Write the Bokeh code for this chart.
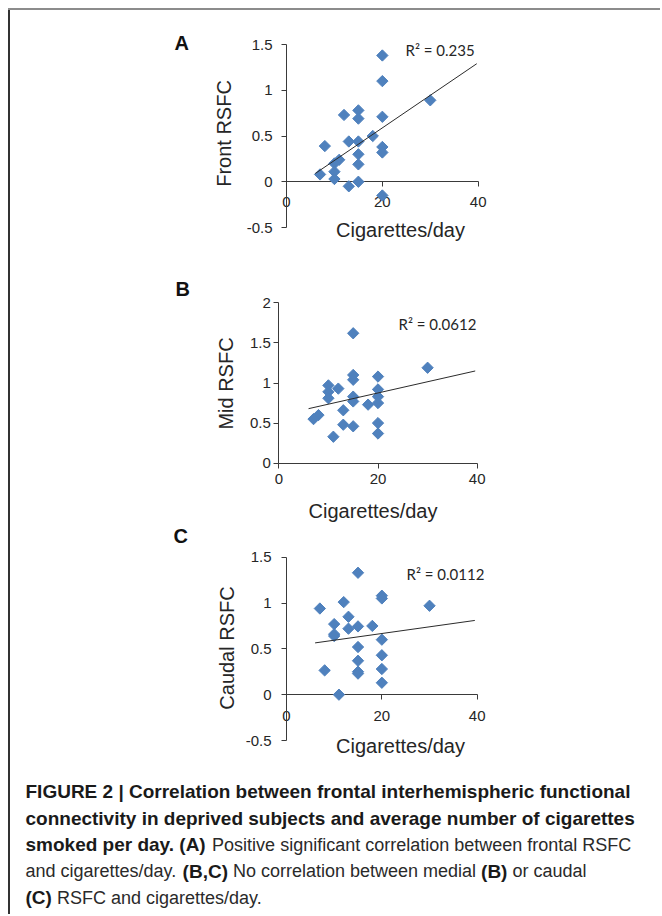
import numpy as np
from bokeh.plotting import figure
from bokeh.models import Range1d, FixedTicker, Label, CustomJSTickFormatter, Div, Spacer
from bokeh.layouts import column, row
from bokeh.core.properties import value
from bokeh.embed import file_html
from bokeh.resources import INLINE

# ---------------- data ----------------
a_x = [20, 20, 30, 15, 15, 12, 20, 8, 13, 15, 18, 20, 20, 15, 15, 11, 10, 10, 10, 7, 13, 15, 20]
a_y = [1.38, 1.10, 0.89, 0.78, 0.69, 0.73, 0.71, 0.39, 0.44, 0.44, 0.50, 0.38, 0.32, 0.30, 0.19,
       0.24, 0.20, 0.11, 0.03, 0.08, -0.05, 0.0, -0.15]
a_trend_x = [6, 39.7]
a_trend_y = [0.09, 1.29]

b_x = [15, 30, 15, 15, 20, 10, 12, 10, 10, 20, 20, 20, 15, 15, 18, 13, 8, 7, 13, 15, 20, 20, 11]
b_y = [1.62, 1.19, 1.10, 1.04, 1.08, 0.97, 0.93, 0.89, 0.81, 0.92, 0.83, 0.75, 0.83, 0.77, 0.73,
       0.66, 0.60, 0.55, 0.48, 0.46, 0.50, 0.37, 0.33]
b_trend_x = [6, 39.6]
b_trend_y = [0.68, 1.15]

c_x = [15, 20, 20, 30, 7, 12, 13, 10, 13, 15, 18, 10, 10, 20, 15, 20, 15, 20, 15, 15, 8, 20, 11]
c_y = [1.33, 1.08, 1.05, 0.97, 0.94, 1.01, 0.85, 0.77, 0.72, 0.745, 0.75, 0.66, 0.64, 0.60, 0.52,
       0.43, 0.37, 0.28, 0.25, 0.23, 0.265, 0.13, 0.0]
c_trend_x = [6, 39.5]
c_trend_y = [0.565, 0.81]

x_ticks = [0, 20, 40]
a_y_ticks = [-0.5, 0, 0.5, 1, 1.5]
b_y_ticks = [0, 0.5, 1, 1.5, 2]
c_y_ticks = [-0.5, 0, 0.5, 1, 1.5]

panel_letters = ["A", "B", "C"]
y_titles = ["Front RSFC", "Mid RSFC", "Caudal RSFC"]
x_title = "Cigarettes/day"
r2_texts = ["R\u00b2 = 0.235", "R\u00b2 = 0.0612", "R\u00b2 = 0.0112"]

caption_lines = [
    [("FIGURE 2 | Correlation between frontal interhemispheric functional", True)],
    [("connectivity in deprived subjects and average number of cigarettes", True)],
    [("smoked per day. (A)", True), (" Positive significant correlation between frontal RSFC", False)],
    [("and cigarettes/day. ", False), ("(B,C)", True), (" No correlation between medial ", False),
     ("(B)", True), (" or caudal", False)],
    [("(C)", True), (" RSFC and cigarettes/day.", False)],
]

# ---------------- styling / layout geometry ----------------
FONT = "Liberation Sans"
BLUE = "#4F81BD"
AXIS = "#3a3a3a"
TXT = "#262626"
W = 650          # width of every figure
ORG_X = 10       # page x of figures' left edge (8 margin + 2 frame line)


def make_panel(xs, ys, tx, ty, yr, yticks, letter, ytitle, r2, g):
    H = g["H"]
    oy = g["oy"]
    px0, px40 = g["x0"] - ORG_X, g["x40"] - ORG_X
    pyt, pyb = g["yt"] - oy, g["yb"] - oy
    ylo, yhi = yr
    sx = (px40 - px0) / 40.0
    sy = (pyb - pyt) / (yhi - ylo)
    x_start = -px0 / sx
    x_end = (W - px0) / sx
    y_end = yhi + pyt / sy
    y_start = ylo - (H - pyb) / sy

    def to_data(page_x, page_y):
        return x_start + (page_x - ORG_X) / sx, y_end - (page_y - oy) / sy

    p = figure(width=W, height=H, min_border=0,
               x_range=Range1d(x_start, x_end), y_range=Range1d(y_start, y_end),
               output_backend="svg", toolbar_location=None, tools="")
    p.grid.visible = False
    p.outline_line_color = None
    p.background_fill_color = "white"
    p.border_fill_color = "white"

    p.xaxis.fixed_location = 0
    p.yaxis.fixed_location = 0
    p.xaxis.bounds = (0, 40)
    p.yaxis.bounds = (ylo, yhi)
    p.xaxis.ticker = FixedTicker(ticks=x_ticks)
    p.yaxis.ticker = FixedTicker(ticks=yticks)
    p.yaxis.formatter = CustomJSTickFormatter(code="return String(tick)")
    for ax in (p.xaxis, p.yaxis):
        ax.axis_line_color = AXIS
        ax.axis_line_width = 1
        ax.major_tick_line_color = AXIS
        ax.major_tick_in = 0
        ax.major_tick_out = 5
        ax.minor_tick_in = 0
        ax.minor_tick_out = 0
        ax.major_label_text_font = FONT
        ax.major_label_text_font_size = "15px"
        ax.major_label_text_color = TXT
    p.xaxis.major_label_standoff = g["xstand"]
    p.yaxis.major_label_standoff = g["ystand"]
    p.xaxis.level = "underlay"

    p.scatter(xs, ys, marker="square", size=8, angle=np.pi / 4,
              fill_color=BLUE, line_color=BLUE)
    p.line(tx, ty, line_color="#2b2b2b", line_width=1)

    lx, ly = to_data(*g["letter"])
    p.add_layout(Label(x=lx, y=ly, text=letter,
                       text_font=FONT, text_font_size="20px", text_font_style="bold",
                       text_color="#111111", text_align="left", text_baseline="middle"))
    xx, xy = to_data(*g["xtitle"])
    p.add_layout(Label(x=xx, y=xy, text=x_title,
                       text_font=FONT, text_font_size="20px", text_color=TXT,
                       text_align="center", text_baseline="middle"))
    yx, yy = to_data(*g["ytitle"])
    p.add_layout(Label(x=yx, y=yy, text=ytitle, angle=np.pi / 2,
                       text_font=FONT, text_font_size="20px", text_color=TXT,
                       text_align="center", text_baseline="middle"))
    rx, ry = to_data(*g["r2"])
    p.add_layout(Label(x=rx, y=ry, text=r2,
                       text_font="Lato", text_font_size="15px", text_color=TXT,
                       text_align="left", text_baseline="middle"))
    return p


# page-pixel geometry of each panel (axis box, text anchors)
geomA = dict(oy=10, H=260, x0=286, x40=477.7, yt=44, yb=227, xstand=10, ystand=9,
             letter=(174, 42), xtitle=(400, 229), ytitle=(223, 133), r2=(405, 49))
geomB = dict(oy=270, H=255, x0=278.3, x40=476.7, yt=302.3, yb=462.7, xstand=6, ystand=3,
             letter=(175, 288), xtitle=(372.5, 510), ytitle=(225, 383), r2=(398, 323))
geomC = dict(oy=525, H=240, x0=286, x40=476.7, yt=556.7, yb=740, xstand=11, ystand=10,
             letter=(173, 535), xtitle=(400, 745), ytitle=(226.7, 647.5), r2=(406, 573))

pA = make_panel(a_x, a_y, a_trend_x, a_trend_y, (-0.5, 1.5), a_y_ticks,
                panel_letters[0], y_titles[0], r2_texts[0], geomA)
pB = make_panel(b_x, b_y, b_trend_x, b_trend_y, (0, 2), b_y_ticks,
                panel_letters[1], y_titles[1], r2_texts[1], geomB)
pC = make_panel(c_x, c_y, c_trend_x, c_trend_y, (-0.5, 1.5), c_y_ticks,
                panel_letters[2], y_titles[2], r2_texts[2], geomC)

# ---------------- caption ----------------
UP = "ABCDEFGHIJKLMNOPQRSTUVWXYZ"
LO = "abcdefghijklmnopqrstuvwxyz"
reg_w = dict(zip(UP, [667, 667, 722, 722, 667, 611, 778, 722, 278, 500, 667, 556, 833, 722, 778,
                      667, 778, 722, 667, 611, 722, 667, 944, 667, 667, 611]))
reg_w.update(zip(LO, [556, 556, 500, 556, 556, 278, 556, 556, 222, 222, 500, 222, 833, 556, 556,
                      556, 556, 333, 500, 278, 556, 500, 722, 500, 500, 500]))
bold_w = dict(zip(UP, [722, 722, 722, 722, 667, 611, 778, 722, 278, 556, 722, 611, 833, 722, 778,
                       667, 778, 722, 667, 611, 722, 667, 944, 667, 667, 611]))
bold_w.update(zip(LO, [556, 611, 556, 611, 556, 333, 611, 611, 278, 278, 556, 278, 889, 611, 611,
                       611, 611, 389, 556, 333, 611, 556, 778, 556, 556, 500]))
for d, bar in ((reg_w, 260), (bold_w, 280)):
    d.update({" ": 278, "(": 333, ")": 333, ",": 278, ".": 278, "/": 278, "-": 333, "|": bar})
    d.update({c: 556 for c in "0123456789"})

BOLD_SIZE = 19
REG_SIZE = 18
CAP_OY = 765
CAP_H = 149


def text_width(s, bold):
    d = bold_w if bold else reg_w
    size = BOLD_SIZE if bold else REG_SIZE
    return sum(d.get(ch, 556) for ch in s) * size / 1000.0


cap = figure(width=W, height=CAP_H, x_range=Range1d(0, W), y_range=Range1d(CAP_H, 0),
             min_border=0, output_backend="svg", toolbar_location=None, tools="",
             x_axis_type=None, y_axis_type=None)
cap.grid.visible = False
cap.outline_line_color = None

bx, by, bt_ = [], [], []
rx, ry, rt_ = [], [], []
line_y0, line_gap, x0 = 791 - CAP_OY, 26.5, 25 - ORG_X
for i, segs in enumerate(caption_lines):
    x = x0
    y = line_y0 + i * line_gap
    for s, bold in segs:
        lead = len(s) - len(s.lstrip(" "))
        xs = x + text_width(s[:lead], bold)
        if bold:
            bx.append(xs); by.append(y); bt_.append(s.strip(" "))
        else:
            rx.append(xs); ry.append(y); rt_.append(s.strip(" "))
        x += text_width(s, bold)

cap.text(x=bx, y=by, text=bt_, text_font=value(FONT), text_font_size=value(f"{BOLD_SIZE}px"),
         text_font_style="bold", text_color="#1a1a1a", text_baseline="middle", text_align="left")
cap.text(x=rx, y=ry, text=rt_, text_font=value(FONT), text_font_size=value(f"{REG_SIZE}px"),
         text_font_style="normal", text_color="#2a2a2a", text_baseline="middle", text_align="left")

# ---------------- layout with frame lines ----------------
body_h = geomA["H"] + geomB["H"] + geomC["H"] + CAP_H
top_bar = Div(text="", width=W + 2, height=2, margin=0, styles={"background-color": "#8c8c8c"})
left_bar = Div(text="", width=2, height=body_h, margin=0, styles={"background-color": "#333333"})
body = column(pA, pB, pC, cap, spacing=0)
framed = column(top_bar, row(left_bar, body, spacing=0), spacing=0)
page = column(Spacer(height=8, width=W + 10, margin=0),
              row(Spacer(width=8, height=body_h + 2, margin=0), framed, spacing=0),
              spacing=0)

open("out.html", "w").write(file_html(page, INLINE))
